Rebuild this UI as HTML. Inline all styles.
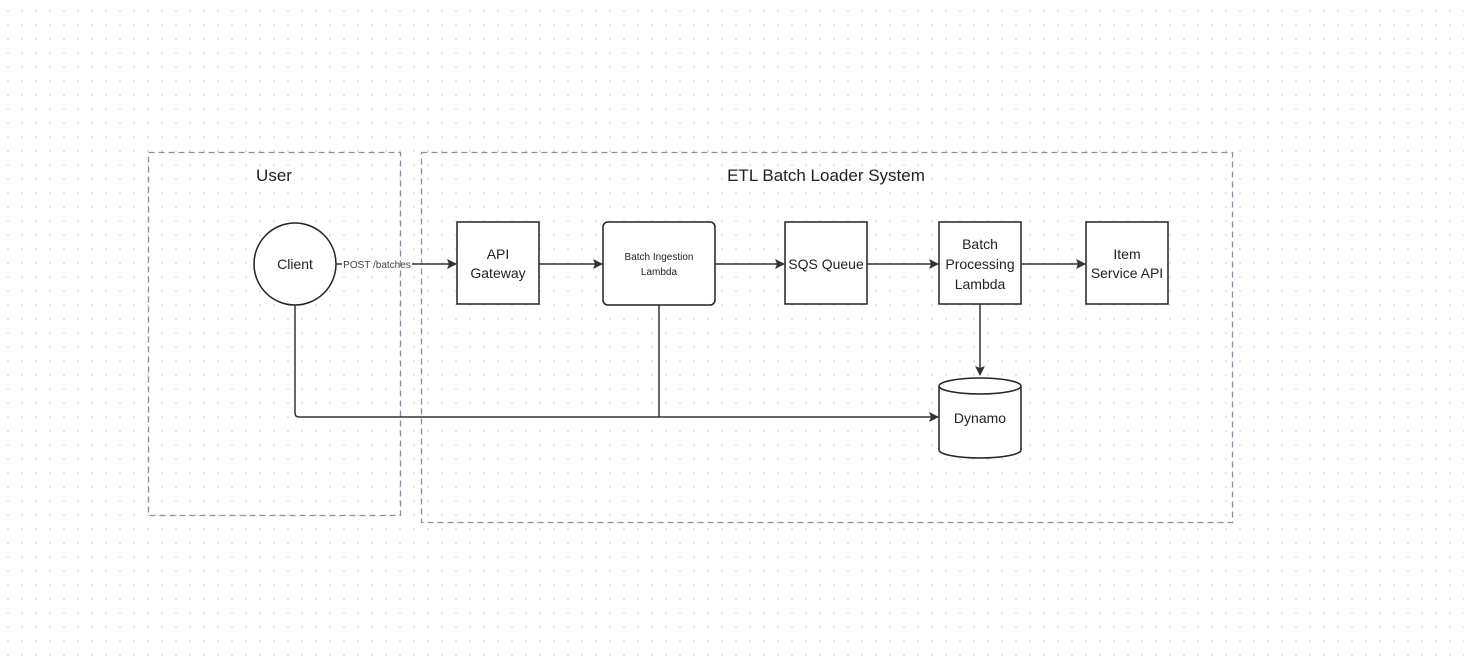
<!DOCTYPE html>
<html><head><style>
body{margin:0;width:1464px;height:661px;background:#fff;overflow:hidden;font-family:"Liberation Sans","DejaVu Sans",sans-serif}
</style></head><body>
<svg width="1464" height="661" xmlns="http://www.w3.org/2000/svg" font-family="Liberation Sans, DejaVu Sans, sans-serif">
<defs>
<pattern id="g" x="1" y="4" width="14" height="14" patternUnits="userSpaceOnUse"><circle cx="7" cy="7" r="0.8" fill="#c8c8c8"/></pattern>
<marker id="a" markerWidth="10" markerHeight="10" refX="9" refY="5" orient="auto" markerUnits="userSpaceOnUse"><path d="M0,0 L10,5 L0,10 L2,5 Z" fill="#333"/></marker>
</defs>
<rect width="1464" height="661" fill="url(#g)"/>
<g fill="none" stroke="#8a8fa3" stroke-width="1.3" stroke-dasharray="6,4">
<rect x="148.5" y="152.5" width="252" height="363"/>
<rect x="421.5" y="152.5" width="811" height="370"/>
</g>
<text x="274" y="181" font-size="17" text-anchor="middle" fill="#222">User</text>
<text x="826" y="181" font-size="17" text-anchor="middle" fill="#222">ETL Batch Loader System</text>
<g fill="#fff" stroke="#222" stroke-width="1.5">
<circle cx="295" cy="264" r="41"/>
<rect x="457" y="222" width="82" height="82"/>
<rect x="603" y="222" width="112" height="83" rx="5"/>
<rect x="785" y="222" width="82" height="82"/>
<rect x="939" y="222" width="82" height="82"/>
<rect x="1086" y="222" width="82" height="82"/>
<path d="M939,386 L939,450 A41,8 0 0 0 1021,450 L1021,386 A41,8 0 0 0 939,386 A41,8 0 0 0 1021,386"/>
</g>
<g fill="none" stroke="#333" stroke-width="1.5">
<line x1="336" y1="264" x2="342" y2="264"/>
<line x1="412" y1="264" x2="456" y2="264" marker-end="url(#a)"/>
<line x1="539" y1="264" x2="602" y2="264" marker-end="url(#a)"/>
<line x1="715" y1="264" x2="784" y2="264" marker-end="url(#a)"/>
<line x1="867" y1="264" x2="938" y2="264" marker-end="url(#a)"/>
<line x1="1021" y1="264" x2="1085" y2="264" marker-end="url(#a)"/>
<line x1="980" y1="304" x2="980" y2="375" marker-end="url(#a)"/>
<path d="M295,305 L295,413 Q295,417 299,417 L938,417" marker-end="url(#a)"/>
<path d="M659,305 L659,417"/>
</g>
<g fill="#222" text-anchor="middle">
<text x="295" y="269" font-size="14">Client</text>
<text x="377" y="268" font-size="10" fill="#444">POST /batches</text>
<text x="498" y="259" font-size="14">API</text>
<text x="498" y="278" font-size="14">Gateway</text>
<text x="659" y="260" font-size="10">Batch Ingestion</text>
<text x="659" y="275" font-size="10">Lambda</text>
<text x="826" y="269" font-size="14">SQS Queue</text>
<text x="980" y="249" font-size="14">Batch</text>
<text x="980" y="269" font-size="14">Processing</text>
<text x="980" y="289" font-size="14">Lambda</text>
<text x="1127" y="259" font-size="14">Item</text>
<text x="1127" y="278" font-size="14">Service API</text>
<text x="980" y="423" font-size="14">Dynamo</text>
</g>
</svg>
</body></html>
